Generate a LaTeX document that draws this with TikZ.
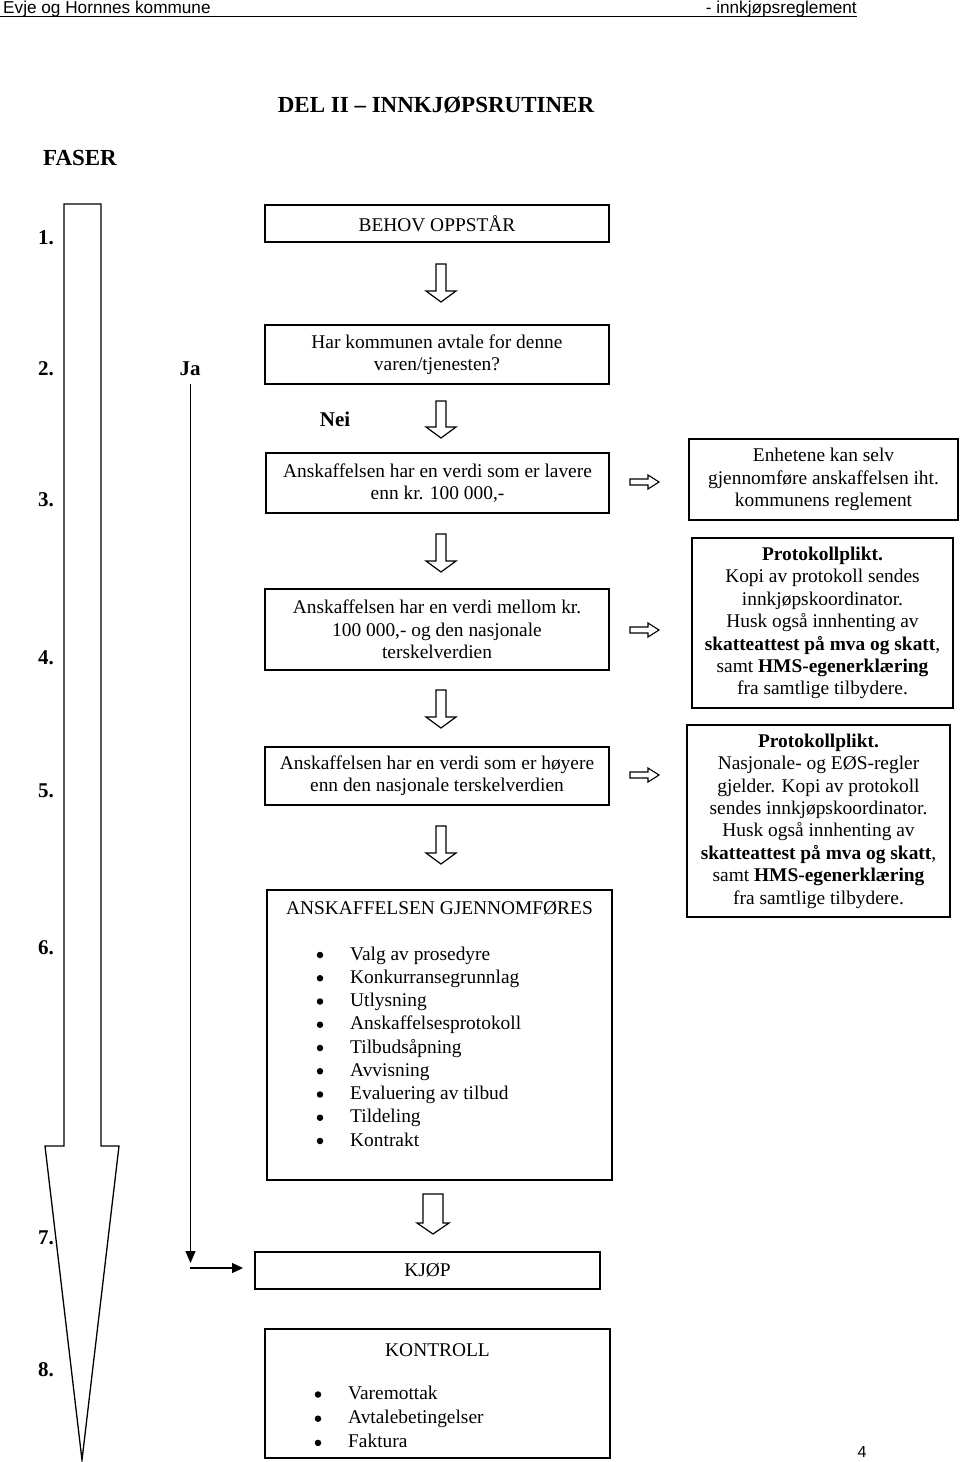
\documentclass[tikz,border=0pt]{standalone}
\usepackage{fontspec}
\setmainfont{Liberation Serif}
\newfontfamily\arialf{Liberation Sans}
\usetikzlibrary{arrows.meta}
\newcommand\fsz{\fontsize{19.4}{22.4}\selectfont}
\tikzset{
  box/.style={draw, line width=1.3pt, inner sep=0pt, align=center, font=\fsz},
  txt/.style={inner sep=0pt, font=\fsz},
  num/.style={inner sep=0pt, font=\bfseries\fontsize{21}{24}\selectfont},
  blk/.style={draw, line width=1.2pt, line join=miter, fill=white},
  thin/.style={line width=1.3pt},
  dot/.style={circle, fill=black, inner sep=0pt, minimum size=6.5pt},
}
\newcommand\dnarrow[5]{% cx, top, shaft half, head half, total length
  \draw[blk] ({#1-#3},#2) -- ({#1+#3},#2) -- ({#1+#3},{#2+#5-11}) -- ({#1+#4},{#2+#5-11})
    -- (#1,{#2+#5}) -- ({#1-#4},{#2+#5-11}) -- ({#1-#3},{#2+#5-11}) -- cycle;}
\newcommand\rtarrow[1]{%
  \draw[line width=1.1pt, line join=miter] (630,{#1-3}) -- (648,{#1-3}) -- (648,{#1-7}) -- (659,#1)
    -- (648,{#1+7}) -- (648,{#1+3}) -- (630,{#1+3}) -- cycle;}
\begin{document}
\begin{tikzpicture}[x=1pt,y=-1pt]
\useasboundingbox (0,0) rectangle (960,1462);
\fill[white] (0,0) rectangle (960,1462);
% header
\node[anchor=base west, inner sep=0pt, font=\arialf\fontsize{17.2}{19}\selectfont] (hl) at (3,13.5) {Evje og Hornnes kommune};
\node[anchor=base east, inner sep=0pt, font=\arialf\fontsize{17.2}{19}\selectfont] (hr) at (857,13.5) {- innkjøpsreglement};
\draw[line width=1.2pt] (0,16.5) -- (857,16.5);
% title
\node[num, font=\bfseries\fontsize{23}{26}\selectfont] (title) at (436,105) {DEL II – INNKJØPSRUTINER};
\node[num, font=\bfseries\fontsize{23}{26}\selectfont] (faser) at (80,158) {FASER};
% phase numbers
\node[num] (n1) at (46,238) {1.};
\node[num] (n2) at (46,369) {2.};
\node[num] (n3) at (46,500) {3.};
\node[num] (n4) at (46,658) {4.};
\node[num] (n5) at (46,791) {5.};
\node[num] (n6) at (46,948) {6.};
\node[num] (n7) at (46,1238) {7.};
\node[num] (n8) at (46,1370) {8.};
% big left arrow
\draw[thin, line join=miter] (64,204) -- (101,204) -- (101,1146) -- (119,1146) -- (82,1460) -- (45,1146) -- (64,1146) -- cycle;
% Ja / Nei
\node[num] (ja) at (190,369) {Ja};
\node[num] (nei) at (335,419) {Nei};
% main boxes
\node[box, minimum width=344, minimum height=37] (b1) at (437,223.5) {BEHOV OPPSTÅR};
\node[box, minimum width=344, minimum height=59] (b2) at (437,354.5) {Har kommunen avtale for denne\\varen/tjenesten?};
\node[box, minimum width=343, minimum height=60] (b3) at (437.5,483) {Anskaffelsen har en verdi som er lavere\\enn kr. 100 000,-};
\node[box, minimum width=344, minimum height=81] (b4) at (437,629.5) {Anskaffelsen har en verdi mellom kr.\\100 000,- og den nasjonale\\terskelverdien};
\node[box, minimum width=344, minimum height=58] (b5) at (437,776) {Anskaffelsen har en verdi som er høyere\\enn den nasjonale terskelverdien};
\node[box, minimum width=345, minimum height=290] (b6) at (439.5,1035) {};
\node[txt] (b6t) at (439.5,908) {ANSKAFFELSEN GJENNOMFØRES};
\foreach \t [count=\i] in {Valg av prosedyre,Konkurransegrunnlag,Utlysning,Anskaffelsesprotokoll,Tilbudsåpning,Avvisning,Evaluering av tilbud,Tildeling,Kontrakt}{
  \node[txt, anchor=base west] (it\i) at (350,{960+(\i-1)*23.25}) {\t};
  \node[dot] (bu\i) at (320,{955+(\i-1)*23.25}) {};
}
\node[box, minimum width=345, minimum height=37] (b7) at (427.5,1270.5) {KJØP};
\node[box, minimum width=345, minimum height=129] (b8) at (437.5,1393.5) {};
\node[txt] (b8t) at (437.5,1350) {KONTROLL};
\foreach \t [count=\i] in {Varemottak,Avtalebetingelser,Faktura}{
  \node[txt, anchor=base west] (kt\i) at (348,{1399+(\i-1)*24.2}) {\t};
  \node[dot] (kb\i) at (318,{1394.5+(\i-1)*24.2}) {};
}
% right boxes
\node[box, minimum width=269, minimum height=81] (r3) at (823.5,479.5) {Enhetene kan selv\\gjennomføre anskaffelsen iht.\\kommunens reglement};
\node[box, minimum width=261, minimum height=170] (r4) at (822.5,623) {\textbf{Protokollplikt.}\\Kopi av protokoll sendes\\innkjøpskoordinator.\\Husk også innhenting av\\\textbf{skatteattest på mva og skatt},\\samt \textbf{HMS-egenerklæring}\\fra samtlige tilbydere.};
\node[box, minimum width=263, minimum height=192] (r5) at (818.5,821) {\textbf{Protokollplikt.}\\Nasjonale- og EØS-regler\\gjelder. Kopi av protokoll\\sendes innkjøpskoordinator.\\Husk også innhenting av\\\textbf{skatteattest på mva og skatt},\\samt \textbf{HMS-egenerklæring}\\fra samtlige tilbydere.};
% block arrows down
\dnarrow{441}{264}{5}{15}{38}
\dnarrow{441}{401}{5}{15}{37}
\dnarrow{441}{534}{5}{15}{38}
\dnarrow{441}{690}{5}{15}{38}
\dnarrow{441}{826}{5}{15}{38}
\dnarrow{433}{1194}{10}{16}{40}
% right arrows
\rtarrow{482}
\rtarrow{630}
\rtarrow{775}
% Ja connector
\coordinate (jaTop) at (190.5,384);
\coordinate (jaEnd) at (190.5,1263);
\draw[line width=1.3pt, -{Triangle[length=12pt,width=10pt]}] (jaTop) -- (jaEnd);
\coordinate (hS) at (190,1268);
\coordinate (hE) at (243,1268);
\draw[line width=1.3pt, -{Triangle[length=11pt,width=10pt]}] (hS) -- (hE);
% page number
\node[inner sep=0pt, font=\arialf\fontsize{16}{18}\selectfont] (pg) at (862,1452) {4};
\end{tikzpicture}
\end{document}
